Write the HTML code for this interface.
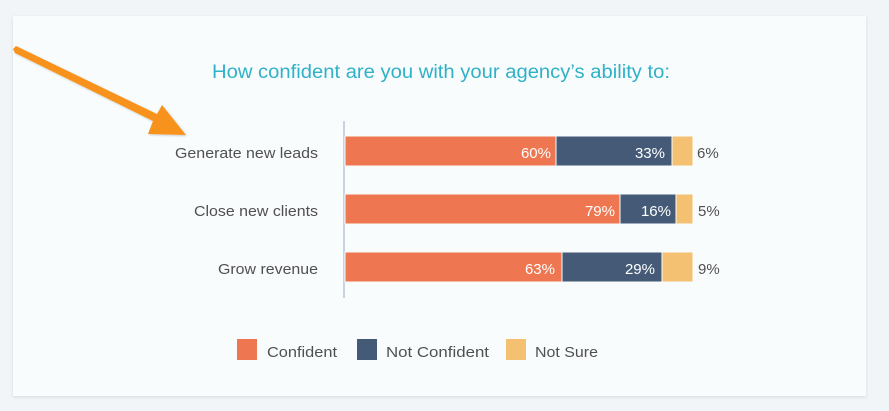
<!DOCTYPE html>
<html><head><meta charset="utf-8"><style>
html,body{margin:0;padding:0;background:#f2f5f8;width:889px;height:411px;overflow:hidden}
svg{display:block;font-family:"Liberation Sans",sans-serif}
</style></head><body>
<svg width="889" height="411" viewBox="0 0 889 411">
<defs><filter id="sh" x="-5%" y="-5%" width="110%" height="110%"><feDropShadow dx="0" dy="1" stdDeviation="1.5" flood-color="#000" flood-opacity="0.12"/></filter>
<filter id="ash"><feDropShadow dx="1" dy="1" stdDeviation="1" flood-color="#000" flood-opacity="0.2"/></filter></defs>
<rect x="13" y="16" width="853" height="380" fill="#f9fcfd" filter="url(#sh)"/>
<text x="212" y="78" font-size="19" fill="#2fb1c8" textLength="458" lengthAdjust="spacingAndGlyphs">How confident are you with your agency’s ability to:</text>
<line x1="344" y1="121" x2="344" y2="298" stroke="#c8d2e0" stroke-width="2"/>
<g font-size="15" fill="#505050">
<text x="175" y="158" textLength="143" lengthAdjust="spacingAndGlyphs">Generate new leads</text>
<text x="194" y="216" textLength="124" lengthAdjust="spacingAndGlyphs">Close new clients</text>
<text x="218" y="274" textLength="100" lengthAdjust="spacingAndGlyphs">Grow revenue</text>
</g>
<g stroke="#f9fcfd" stroke-width="1">
<rect x="345" y="136" width="211" height="30" fill="#ee7751"/>
<rect x="556" y="136" width="116" height="30" fill="#445a77"/>
<rect x="672" y="136" width="21" height="30" fill="#f3c171"/>
<rect x="345" y="194" width="275" height="30" fill="#ee7751"/>
<rect x="620" y="194" width="56" height="30" fill="#445a77"/>
<rect x="676" y="194" width="17" height="30" fill="#f3c171"/>
<rect x="345" y="252" width="217" height="30" fill="#ee7751"/>
<rect x="562" y="252" width="100" height="30" fill="#445a77"/>
<rect x="662" y="252" width="31" height="30" fill="#f3c171"/>
</g>
<g font-size="15" fill="#fff" text-anchor="end">
<text x="551" y="158">60%</text><text x="665" y="158">33%</text>
<text x="615" y="216">79%</text><text x="671" y="216">16%</text>
<text x="555" y="274">63%</text><text x="655" y="274">29%</text>
</g>
<g font-size="15" fill="#505050">
<text x="697" y="158">6%</text><text x="698" y="216">5%</text><text x="698" y="274">9%</text>
</g>
<rect x="237" y="339" width="20" height="21" fill="#ee7751"/>
<text x="267" y="357" font-size="15" fill="#505050" textLength="70" lengthAdjust="spacingAndGlyphs">Confident</text>
<rect x="357" y="339" width="20" height="21" fill="#445a77"/>
<text x="386" y="357" font-size="15" fill="#505050" textLength="103" lengthAdjust="spacingAndGlyphs">Not Confident</text>
<rect x="506" y="339" width="20" height="21" fill="#f3c171"/>
<text x="535" y="357" font-size="15" fill="#505050" textLength="63" lengthAdjust="spacingAndGlyphs">Not Sure</text>
<polygon points="13,49 15,53 153,121 148,134 186,135 162,105 157,114 16,46" fill="#f7931e" filter="url(#ash)"/>
</svg>
</body></html>
